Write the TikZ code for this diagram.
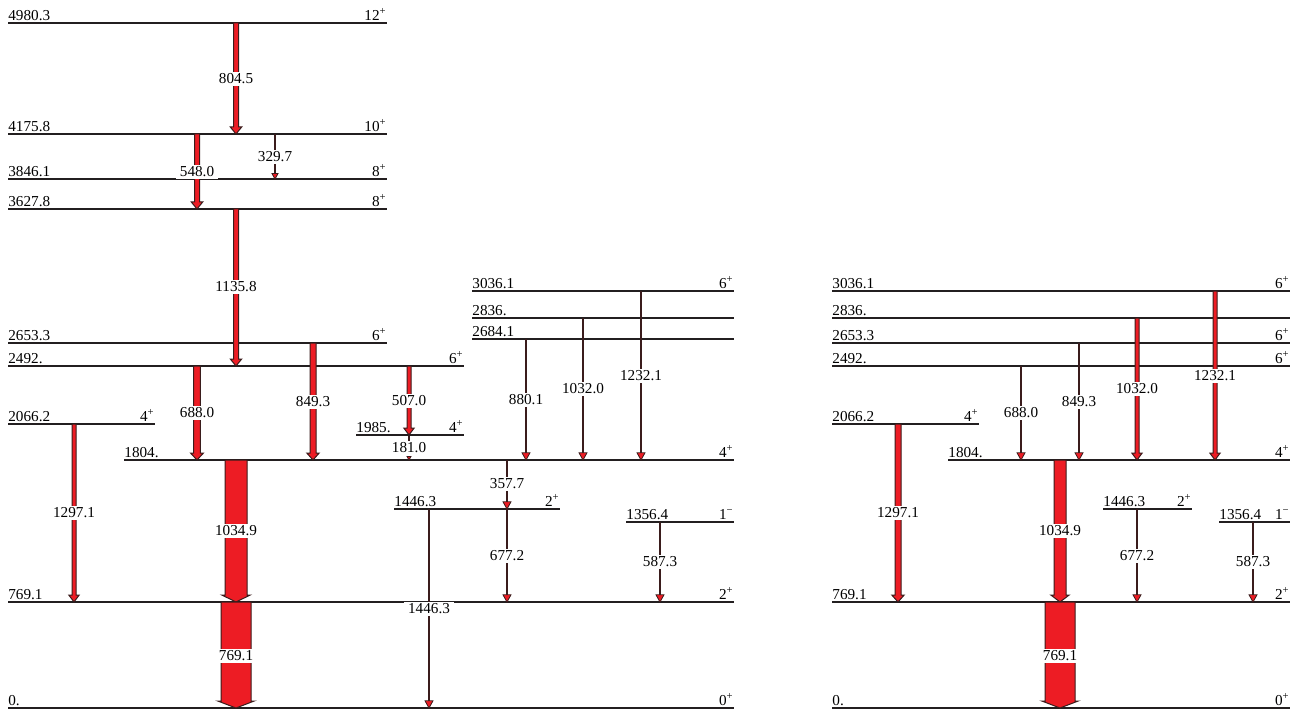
\documentclass[tikz,border=0pt]{standalone}
\usepackage{fontspec}
\setmainfont{Liberation Serif}
\definecolor{gred}{HTML}{ED1C24}
\definecolor{gdark}{HTML}{3A1C1C}
\definecolor{lvline}{HTML}{231F20}
\newcommand{\jpi}[2]{#1\textsuperscript{#2}}
\newcommand{\lvl}[6]{%
  \draw[level] (#2,#4) coordinate (#1a) -- (#3,#4) coordinate (#1b);
  \node[elab] (#1e) at (#1a) {#5};
  \node[slab] (#1s) at (#1b) {#6};}
\newcommand{\gband}[6]{%
  \filldraw[band] ({#1-#4},#2) -- ({#1+#4},#2) -- ({#1+#4},{#3-7}) -- ({#1+#4+3.2},{#3-7})
    -- (#1,#3) -- ({#1-#4-3.2},{#3-7}) -- ({#1-#4},{#3-7}) -- cycle;
  \node[glab] (g#1-#5) at (#1,#5) {#6};}
\newcommand{\gline}[6][4]{%
  \draw[weak] (#2,#3) -- (#2,{#4-6});
  \filldraw[head] ({#2-#1},{#4-1.8*#1}) -- ({#2+#1},{#4-1.8*#1}) -- (#2,#4) -- cycle;
  \node[glab] (g#2-#5) at (#2,#5) {#6};}
\begin{document}
\begin{tikzpicture}[x=0.5pt, y=-0.5pt, font=\fontsize{7.6}{9}\selectfont,
  level/.style={draw=lvline, line width=0.75pt},
  elab/.style={anchor=south west, inner xsep=0pt, inner ysep=1pt},
  slab/.style={anchor=south east, inner xsep=0pt, inner ysep=1pt},
  band/.style={fill=gred, draw=gdark, line width=0.5pt},
  weak/.style={draw=gdark, line width=0.9pt},
  head/.style={fill=gred, draw=gdark, line width=0.4pt},
  glab/.style={fill=white, inner xsep=2pt, inner ysep=1pt}]
\useasboundingbox (0,0) rectangle (1295,711);
% left scheme
\lvl{A12}{8}{387}{23}{4980.3}{\jpi{12}{+}}
\lvl{A10}{8}{387}{134}{4175.8}{\jpi{10}{+}}
\lvl{A8b}{8}{387}{179}{3846.1}{\jpi{8}{+}}
\lvl{A8a}{8}{387}{209}{3627.8}{\jpi{8}{+}}
\lvl{A6c}{8}{387}{343}{2653.3}{\jpi{6}{+}}
\lvl{A6a}{8}{464}{366}{2492.}{\jpi{6}{+}}
\lvl{A4c}{8}{155}{424}{2066.2}{\jpi{4}{+}}
\lvl{A4b}{356}{464}{435}{1985.}{\jpi{4}{+}}
\lvl{A4a}{124}{734}{460}{1804.}{\jpi{4}{+}}
\lvl{A6e}{472}{734}{291}{3036.1}{\jpi{6}{+}}
\lvl{A6d}{472}{734}{318}{2836.}{}
\lvl{A6b}{472}{734}{339}{2684.1}{}
\lvl{A2b}{394}{560}{509}{1446.3}{\jpi{2}{+}}
\lvl{A1}{626}{734}{522}{1356.4}{\jpi{1}{−}}
\lvl{A2a}{8}{734}{602}{769.1}{\jpi{2}{+}}
\lvl{A0}{8}{734}{708}{0.}{\jpi{0}{+}}
\gband{236}{23}{134}{2.5}{79}{804.5}
\gband{197}{134}{209}{2.5}{172}{548.0}
\gline[3]{275}{134}{179}{157}{329.7}
\gband{236}{209}{366}{2.5}{287}{1135.8}
\gband{197}{366}{460}{3.3}{413}{688.0}
\gband{313}{343}{460}{3}{402}{849.3}
\gband{409}{366}{435}{2}{401}{507.0}
\gline[2]{409}{435}{460}{448}{181.0}
\gband{74}{424}{602}{2}{513}{1297.1}
\gband{236}{460}{602}{11}{531}{1034.9}
\gband{236}{602}{708}{15}{656}{769.1}
\gline{429}{509}{708}{609}{1446.3}
\gline{526}{339}{460}{400}{880.1}
\gline{583}{318}{460}{389}{1032.0}
\gline{641}{291}{460}{376}{1232.1}
\gline{507}{460}{509}{484}{357.7}
\gline{507}{509}{602}{556}{677.2}
\gline{660}{522}{602}{562}{587.3}
% right scheme
\lvl{B6e}{832}{1290}{291}{3036.1}{\jpi{6}{+}}
\lvl{B6d}{832}{1290}{318}{2836.}{}
\lvl{B6c}{832}{1290}{343}{2653.3}{\jpi{6}{+}}
\lvl{B6a}{832}{1290}{366}{2492.}{\jpi{6}{+}}
\lvl{B4c}{832}{979}{424}{2066.2}{\jpi{4}{+}}
\lvl{B4a}{948}{1290}{460}{1804.}{\jpi{4}{+}}
\lvl{B2b}{1103}{1192}{509}{1446.3}{\jpi{2}{+}}
\lvl{B1}{1219}{1290}{522}{1356.4}{\jpi{1}{−}}
\lvl{B2a}{832}{1290}{602}{769.1}{\jpi{2}{+}}
\lvl{B0}{832}{1290}{708}{0.}{\jpi{0}{+}}
\gline{1021}{366}{460}{413}{688.0}
\gline{1079}{343}{460}{402}{849.3}
\gband{1137}{318}{460}{2}{389}{1032.0}
\gband{1215}{291}{460}{2}{376}{1232.1}
\gband{898}{424}{602}{3}{513}{1297.1}
\gband{1060}{460}{602}{6}{531}{1034.9}
\gband{1060}{602}{708}{15}{656}{769.1}
\gline{1137}{509}{602}{556}{677.2}
\gline{1253}{522}{602}{562}{587.3}
\end{tikzpicture}
\end{document}
